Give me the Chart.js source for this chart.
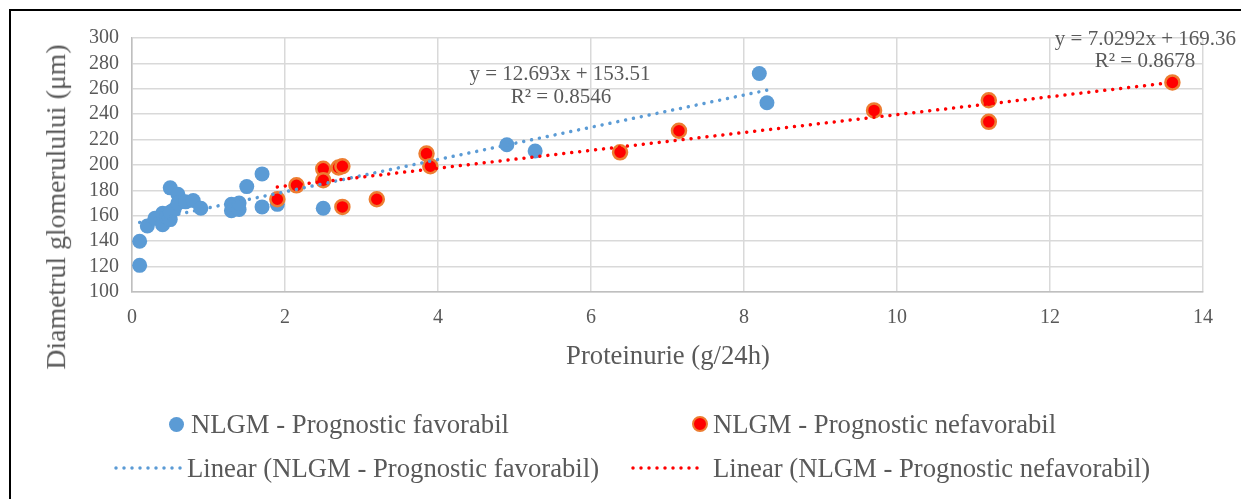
<!DOCTYPE html>
<html>
<head>
<meta charset="utf-8">
<script src="https://cdn.jsdelivr.net/npm/chart.js@4/dist/chart.umd.min.js"></script>
<style>
  html, body { margin: 0; padding: 0; background: #fff; }
  #wrap { position: relative; width: 1241px; height: 499px; overflow: hidden; font-family: "Liberation Serif", "Times New Roman", serif; color: #595959; }
  #chart { position: absolute; left: 0; top: 0; }
  .frameTop { position: absolute; left: 9px; top: 9px; width: 1232px; height: 2px; background: #000; }
  .frameLeft { position: absolute; left: 9px; top: 9px; width: 2px; height: 490px; background: #000; }
  .txt { position: absolute; white-space: nowrap; line-height: 1; }
  .eq { font-size: 21px; }
  .title { font-size: 26.7px; }
  .leg { font-size: 26.7px; }
  .dot { position: absolute; border-radius: 50%; box-sizing: border-box; }
</style>
</head>
<body>
<div id="wrap">
  <canvas id="chart" width="1241" height="499"></canvas>
  <div class="frameTop"></div>
  <div class="frameLeft"></div>

  <div class="txt title" style="left:56px; top:207px; font-size:27.8px; transform: translate(-50%, -50%) rotate(-90deg);">Diametrul glomerulului (μm)</div>
  <div class="txt title" style="left:668px; top:355px; transform: translate(-50%, -50%);">Proteinurie (g/24h)</div>

  <div class="txt eq" style="left:560px; top:73px; transform: translate(-50%, -50%);">y = 12.693x + 153.51</div>
  <div class="txt eq" style="left:561px; top:96px; transform: translate(-50%, -50%);">R² = 0.8546</div>
  <div class="txt eq" style="left:1236px; top:38px; transform: translate(-100%, -50%);">y = 7.0292x + 169.36</div>
  <div class="txt eq" style="left:1145px; top:60px; transform: translate(-50%, -50%);">R² = 0.8678</div>

  <!-- legend -->
  <div class="dot" style="left:169px; top:417px; width:15px; height:15px; background:#5B9BD5;"></div>
  <div class="txt leg" style="left:191px; top:424px; transform: translateY(-50%);">NLGM - Prognostic favorabil</div>
  <div class="dot" style="left:692px; top:416px; width:16px; height:16px; background:#FF0000; border:2.5px solid #ED7D31;"></div>
  <div class="txt leg" style="left:713px; top:424px; transform: translateY(-50%);">NLGM - Prognostic nefavorabil</div>

  <svg style="position:absolute; left:110px; top:460px;" width="75" height="16">
    <line x1="6" y1="8" x2="72" y2="8" stroke="#5B9BD5" stroke-width="3.5" stroke-linecap="round" stroke-dasharray="0 8"/>
  </svg>
  <div class="txt leg" style="left:187px; top:468px; transform: translateY(-50%);">Linear (NLGM - Prognostic favorabil)</div>
  <svg style="position:absolute; left:628px; top:460px;" width="80" height="16">
    <line x1="5" y1="8" x2="77" y2="8" stroke="#FF0000" stroke-width="3.5" stroke-linecap="round" stroke-dasharray="0 8"/>
  </svg>
  <div class="txt leg" style="left:713px; top:468px; transform: translateY(-50%);">Linear (NLGM - Prognostic nefavorabil)</div>
</div>

<script>
// ===================================
// DATA
// ===================================

// NLGM - Prognostic favorabil
const favX = [0.1, 0.1, 0.2, 0.3, 0.4, 0.4, 0.45, 0.5, 0.5, 0.55, 0.5, 0.6, 0.6, 0.7, 0.8, 0.9, 1.3, 1.3, 1.4, 1.4, 1.5, 1.7, 1.7, 1.9, 2.5, 4.9, 5.27, 8.2, 8.3];
const favY = [121, 140, 152, 158, 153, 162, 159, 157, 182, 165, 163, 177, 170, 171, 172, 166, 164, 169, 165, 170, 183, 193, 167, 169, 166, 216, 211, 272, 249];

// NLGM - Prognostic nefavorabil
const nefX = [1.9, 2.15, 2.5, 2.5, 2.7, 2.75, 2.75, 3.2, 3.85, 3.9, 6.38, 7.15, 9.7, 11.2, 11.2, 13.6];
const nefY = [173, 184, 197, 188, 198, 199, 167, 173, 209, 199, 210, 227, 243, 251, 234, 265];

// linii de trend (capetele)
const favTrendX = [0.1, 8.3];
const favTrendY = [154.8, 258.9];
const nefTrendX = [1.9, 13.6];
const nefTrendY = [182.7, 265.0];

// ===================================
// HELPERS
// ===================================
function toPoints(xs, ys) {
  return xs.map((x, i) => ({ x: x, y: ys[i] }));
}

const gridColor = "#D9D9D9";
const tickFont = { family: "'Liberation Serif', 'Times New Roman', serif", size: 20 };

// ===================================
// CHART
// ===================================
const ctx = document.getElementById("chart").getContext("2d");

new Chart(ctx, {
  type: "scatter",
  data: {
    datasets: [
      {
        label: "Linear (NLGM - Prognostic nefavorabil)",
        type: "line",
        data: toPoints(nefTrendX, nefTrendY),
        borderColor: "#FF0000",
        borderWidth: 3.5,
        borderDash: [0.01, 8],
        borderCapStyle: "round",
        pointRadius: 0,
        fill: false,
        order: 0
      },
      {
        label: "Linear (NLGM - Prognostic favorabil)",
        type: "line",
        data: toPoints(favTrendX, favTrendY),
        borderColor: "#5B9BD5",
        borderWidth: 3.5,
        borderDash: [0.01, 8],
        borderCapStyle: "round",
        pointRadius: 0,
        fill: false,
        order: 1
      },
      {
        label: "NLGM - Prognostic nefavorabil",
        data: toPoints(nefX, nefY),
        backgroundColor: "#FF0000",
        borderColor: "#ED7D31",
        borderWidth: 2.5,
        pointRadius: 7,
        order: 2
      },
      {
        label: "NLGM - Prognostic favorabil",
        data: toPoints(favX, favY),
        backgroundColor: "#5B9BD5",
        borderColor: "#5B9BD5",
        borderWidth: 0,
        pointRadius: 7.5,
        order: 3
      }
    ]
  },
  options: {
    responsive: false,
    animation: false,
    devicePixelRatio: 1,
    layout: { padding: { left: 0, top: 38, right: 38, bottom: 0 } },
    plugins: {
      legend: { display: false },
      tooltip: { enabled: false }
    },
    scales: {
      x: {
        type: "linear",
        min: 0,
        max: 14,
        ticks: { stepSize: 2, autoSkip: false, color: "#595959", font: tickFont, padding: 14 },
        grid: { color: gridColor, lineWidth: 1.5, drawTicks: false },
        border: { color: "#BFBFBF", width: 1.5 },
        afterFit: scale => { scale.height = 207; }
      },
      y: {
        min: 100,
        max: 300,
        ticks: { stepSize: 20, autoSkip: false, color: "#595959", font: tickFont, padding: 13 },
        grid: { color: gridColor, lineWidth: 1.5, drawTicks: false },
        border: { color: "#BFBFBF", width: 1.5 },
        afterFit: scale => { scale.width = 132; }
      }
    }
  }
});
</script>
</body>
</html>
